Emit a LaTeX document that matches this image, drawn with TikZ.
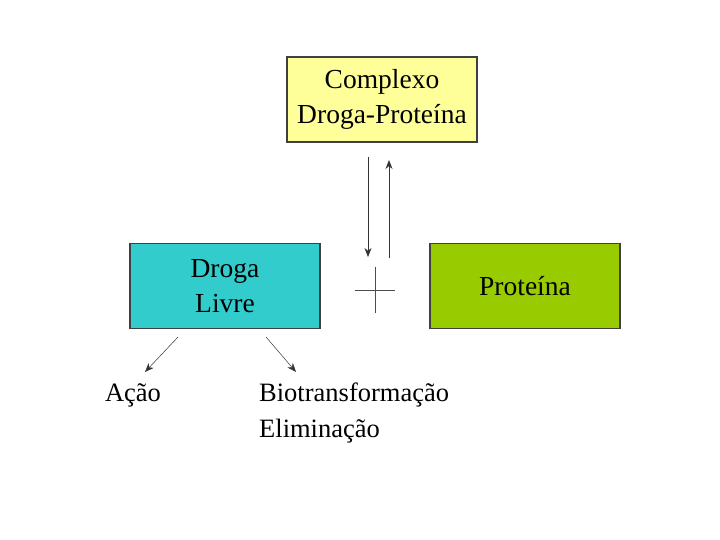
\documentclass[tikz,border=0pt]{standalone}
\usepackage{fontspec}
\setmainfont{Liberation Serif}
\usetikzlibrary{arrows.meta,calc}

\begin{document}
\begin{tikzpicture}[x=1pt,y=1pt,
  caixa/.style={draw=black!75,line width=1.2pt,minimum width=190pt,minimum height=85pt,align=center,inner sep=0pt,font=\fontsize{27.5}{35}\selectfont},
  rotulo/.style={align=left,inner sep=0pt,font=\fontsize{26.5}{36}\selectfont},
  seta/.style={-{Stealth[length=9pt,width=7pt]},black!80}]
\useasboundingbox (0,0) rectangle (720,540);
\node[caixa,fill={rgb,255:red,255;green,255;blue,153}] (complexo) at (382,440.5) {Complexo\\Droga-Proteína};
\node[caixa,fill={rgb,255:red,51;green,204;blue,204}] (livre) at (225,254) {Droga\\Livre};
\node[caixa,fill={rgb,255:red,153;green,204;blue,0}] (proteina) at (525,254) {Proteína};
\node[rotulo] (acao) at (133,145) {Ação};
\node[rotulo,anchor=west] (destino) at (259,127) {Biotransformação\\Eliminação};
% equilibrio
\coordinate (d1) at (368,383);
\coordinate (d2) at (368,283);
\coordinate (u1) at (389,282);
\coordinate (u2) at (389,380);
\draw[seta,line width=.5pt] (d1) -- (d2);
\draw[seta,line width=1pt] (u1) -- (u2);
\coordinate (mais) at (375,250);
\draw[black!70,line width=1pt] ($(mais)+(0,23)$) -- ($(mais)+(0,-23)$);
\draw[black!70,line width=.6pt] ($(mais)+(-20,0)$) -- ($(mais)+(20,0)$);
% saidas
\coordinate (a1) at (178,203);
\coordinate (a2) at (145,168);
\coordinate (b1) at (266,203);
\coordinate (b2) at (296,168);
\draw[seta,line width=.5pt] (a1) -- (a2);
\draw[seta,line width=.5pt] (b1) -- (b2);
\end{tikzpicture}
\end{document}
